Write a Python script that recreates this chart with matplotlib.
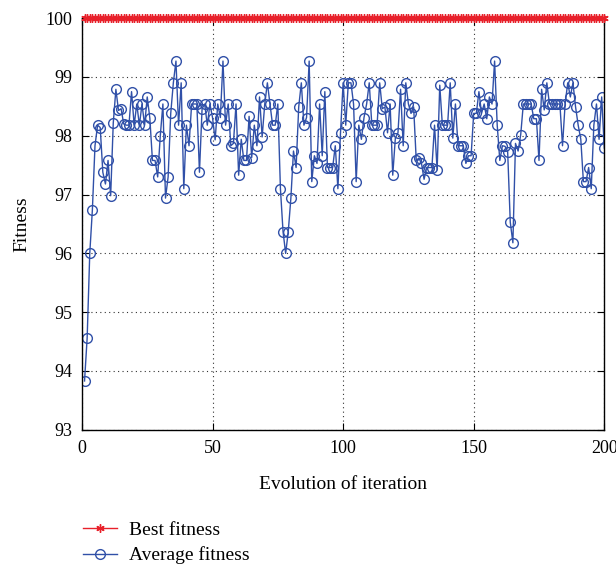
import numpy as np
import matplotlib
matplotlib.use('Agg')
import matplotlib.pyplot as plt

iterations = list(range(1, 201))

best_fitness = [100.0] * 200

avg_fitness = [
    93.83, 94.56, 96.0, 96.74, 97.83, 98.18, 98.14, 97.38, 97.18, 97.58,
    96.98, 98.22, 98.79, 98.43, 98.46, 98.2, 98.18, 98.18, 98.75, 98.18,
    98.54, 98.18, 98.54, 98.18, 98.66, 98.3, 97.58, 97.58, 97.3, 98.0,
    98.54, 96.94, 97.3, 98.38, 98.9, 99.27, 98.18, 98.9, 97.1, 98.18,
    97.83, 98.54, 98.54, 98.54, 97.38, 98.46, 98.54, 98.18, 98.54, 98.31,
    97.93, 98.54, 98.31, 99.27, 98.18, 98.54, 97.83, 97.87, 98.54, 97.33,
    97.94, 97.58, 97.58, 98.33, 97.63, 98.18, 97.83, 98.66, 97.98, 98.54,
    98.9, 98.54, 98.18, 98.18, 98.54, 97.1, 96.37, 96.0, 96.37, 96.94,
    97.74, 97.46, 98.49, 98.9, 98.18, 98.31, 99.27, 97.22, 97.66, 97.53,
    98.54, 97.66, 98.75, 97.46, 97.46, 97.46, 97.83, 97.1, 98.05, 98.9,
    98.18, 98.9, 98.9, 98.54, 97.22, 98.18, 97.94, 98.31, 98.54, 98.9,
    98.18, 98.18, 98.18, 98.9, 98.46, 98.49, 98.05, 98.54, 97.33, 97.96,
    98.05, 98.79, 97.83, 98.9, 98.54, 98.38, 98.49, 97.58, 97.62, 97.53,
    97.26, 97.46, 97.46, 97.46, 98.18, 97.42, 98.86, 98.18, 98.18, 98.18,
    98.9, 97.96, 98.54, 97.83, 97.83, 97.83, 97.53, 97.66, 97.66, 98.38,
    98.38, 98.75, 98.38, 98.54, 98.29, 98.66, 98.54, 99.27, 98.18, 97.58,
    97.83, 97.82, 97.73, 96.53, 96.18, 97.87, 97.74, 98.02, 98.54, 98.54,
    98.54, 98.54, 98.29, 98.29, 97.58, 98.79, 98.44, 98.9, 98.54, 98.54,
    98.54, 98.54, 98.54, 97.83, 98.54, 98.9, 98.66, 98.9, 98.49, 98.18,
    97.94, 97.22, 97.22, 97.46, 97.1, 98.18, 98.54, 97.94, 98.66, 97.79,
]

x_ticks = [0, 50, 100, 150, 200]
y_ticks = [93, 94, 95, 96, 97, 98, 99, 100]

plt.rcParams['font.family'] = ['Liberation Serif', 'DejaVu Serif']

fig = plt.figure(figsize=(6.16, 5.67), dpi=100)
ax = fig.add_axes([0.133, 0.242, 0.848, 0.726])

ax.plot(iterations, best_fitness, color='#e8202a', marker=(6, 2, 0),
        markersize=6, markeredgewidth=1.0, linewidth=1.0, label='Best fitness',
        clip_on=False, zorder=3)
ax.plot(iterations, avg_fitness, color='#3050a8', marker='o', fillstyle='none',
        markersize=7, markeredgewidth=1.0, linewidth=1.0, label='Average fitness')

ax.set_xlim(0, 200)
ax.set_ylim(93, 100)
ax.set_xticks(x_ticks)
ax.set_yticks(y_ticks)
ax.tick_params(direction='in', top=True, right=True, length=5, labelsize=13, pad=7)
ax.grid(True, color='#333333', linestyle=(0, (1, 3)), linewidth=0.8)
for s in ax.spines.values():
    s.set_linewidth(1.0)

ax.set_xlabel('Evolution of iteration', fontsize=14, labelpad=14)
ax.set_ylabel('Fitness', fontsize=14, labelpad=11)

fig.legend(loc='upper left', bbox_to_anchor=(0.135, 0.081), frameon=False,
           handlelength=1.75, handletextpad=0.6, fontsize=14, labelspacing=0.4,
           borderpad=0, borderaxespad=0)

fig.savefig('out.png', dpi=100)
